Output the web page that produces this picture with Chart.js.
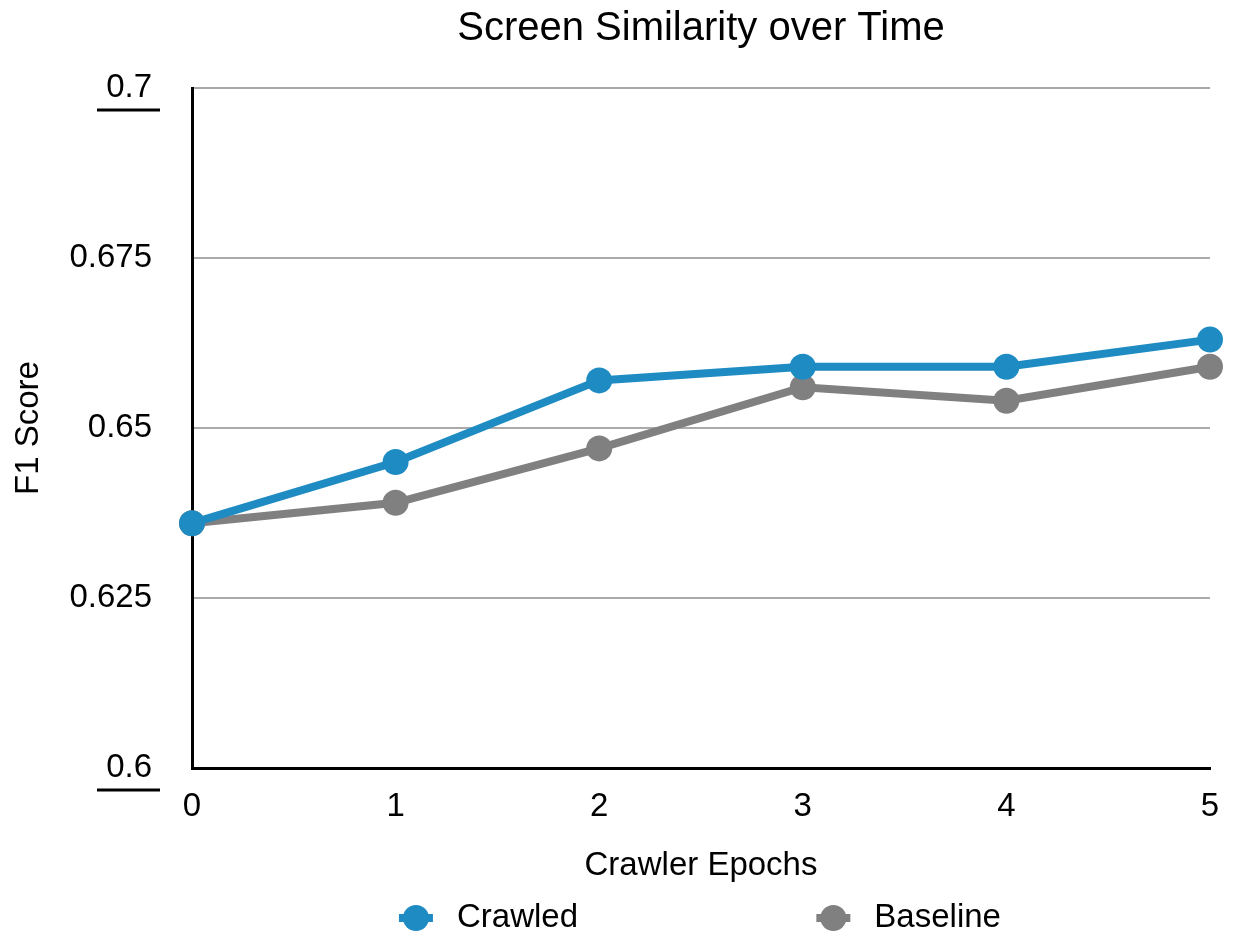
<!DOCTYPE html>
<html>
<head>
<meta charset="utf-8">
<script src="https://cdn.jsdelivr.net/npm/chart.js@4.4.1/dist/chart.umd.min.js"></script>
<style>
  body { margin: 0; background: #fff; }
  canvas { display: block; }
</style>
</head>
<body>
<canvas id="lineChart" width="1233" height="938"></canvas>
<script>
const epochs = ['0', '1', '2', '3', '4', '5'];
const crawled = [0.636, 0.645, 0.657, 0.659, 0.659, 0.663];
const baseline = [0.636, 0.639, 0.647, 0.656, 0.654, 0.659];
const yTickLabels = ['0.6', '0.625', '0.65', '0.675', '0.7'];

const FONT = '"Liberation Sans", Arial, Helvetica, sans-serif';

// legend drawn below the axis title, with the wide gap of the original
const bottomLegend = {
    id: 'bottomLegend',
    afterDraw(chart) {
        const ctx = chart.ctx;
        const area = chart.chartArea;
        const w = area.right - area.left;
        const cy = 918;
        const spots = [area.left + w * 0.22, area.left + w * 0.63];
        ctx.save();
        chart.data.datasets.forEach(function(ds, i) {
            const cx = spots[i];
            ctx.strokeStyle = ds.borderColor;
            ctx.lineWidth = 8;
            ctx.beginPath();
            ctx.moveTo(cx - 17, cy);
            ctx.lineTo(cx + 17, cy);
            ctx.stroke();
            ctx.fillStyle = ds.borderColor;
            ctx.beginPath();
            ctx.arc(cx, cy, 13, 0, Math.PI * 2);
            ctx.fill();
            ctx.fillStyle = '#000';
            ctx.font = '33px ' + FONT;
            ctx.textBaseline = 'middle';
            ctx.textAlign = 'left';
            ctx.fillText(ds.label, cx + 41, cy);
        });
        ctx.restore();
    }
};

// short underlines under the end labels of the y axis
const endUnderlines = {
    id: 'endUnderlines',
    afterDraw(chart) {
        const ctx = chart.ctx;
        const y = chart.scales.y;
        ctx.save();
        ctx.strokeStyle = '#000';
        ctx.lineWidth = 3;
        [0.7, 0.6].forEach(function(v) {
            const py = y.getPixelForValue(v) + 22;
            ctx.beginPath();
            ctx.moveTo(chart.chartArea.left - 95, py);
            ctx.lineTo(chart.chartArea.left - 32, py);
            ctx.stroke();
        });
        ctx.restore();
    }
};

new Chart(document.getElementById('lineChart'), {
    type: 'line',
    data: {
        labels: epochs,
        datasets: [{
            label: 'Crawled',
            data: crawled,
            borderColor: '#1e8bc3',
            backgroundColor: '#1e8bc3',
            borderWidth: 8,
            pointRadius: 13,
            pointHoverRadius: 13,
            pointBorderWidth: 0,
            tension: 0,
            clip: false
        }, {
            label: 'Baseline',
            data: baseline,
            borderColor: '#808080',
            backgroundColor: '#808080',
            borderWidth: 8,
            pointRadius: 13,
            pointHoverRadius: 13,
            pointBorderWidth: 0,
            tension: 0,
            clip: false
        }]
    },
    options: {
        responsive: false,
        animation: false,
        layout: { padding: { top: 0, right: 23, bottom: 50, left: 0 } },
        plugins: {
            legend: { display: false },
            tooltip: { enabled: false }
        },
        scales: {
            // top axis only carries the chart title, centred over the plot
            xTop: {
                type: 'category',
                position: 'top',
                labels: epochs,
                offset: false,
                grid: { display: false },
                border: { display: false },
                ticks: { display: false },
                title: {
                    display: true,
                    text: 'Screen Similarity over Time',
                    color: '#000',
                    font: { family: FONT, size: 40 },
                    padding: { top: 5, bottom: 0 }
                },
                afterFit(scale) { scale.height = 88; }
            },
            x: {
                offset: false,
                grid: { display: false },
                border: { display: true, color: '#000', width: 3 },
                ticks: {
                    color: '#000',
                    padding: 11,
                    font: { family: FONT, size: 33 }
                },
                title: {
                    display: true,
                    text: 'Crawler Epochs',
                    color: '#000',
                    font: { family: FONT, size: 33 },
                    padding: { top: 0, bottom: 2 }
                },
                afterFit(scale) { scale.height = 120; }
            },
            y: {
                min: 0.6,
                max: 0.7,
                grid: {
                    color: '#aaaaaa',
                    lineWidth: 2,
                    drawTicks: false
                },
                border: { display: true, color: '#000', width: 3 },
                ticks: {
                    stepSize: 0.025,
                    color: '#000',
                    padding: 40,
                    font: { family: FONT, size: 33 },
                    callback: function(value, index) { return yTickLabels[index]; }
                },
                title: {
                    display: true,
                    text: 'F1 Score',
                    color: '#000',
                    font: { family: FONT, size: 33 },
                    padding: { top: 9 }
                },
                afterFit(scale) { scale.width = 192; }
            }
        }
    },
    plugins: [bottomLegend, endUnderlines]
});
</script>
</body>
</html>
